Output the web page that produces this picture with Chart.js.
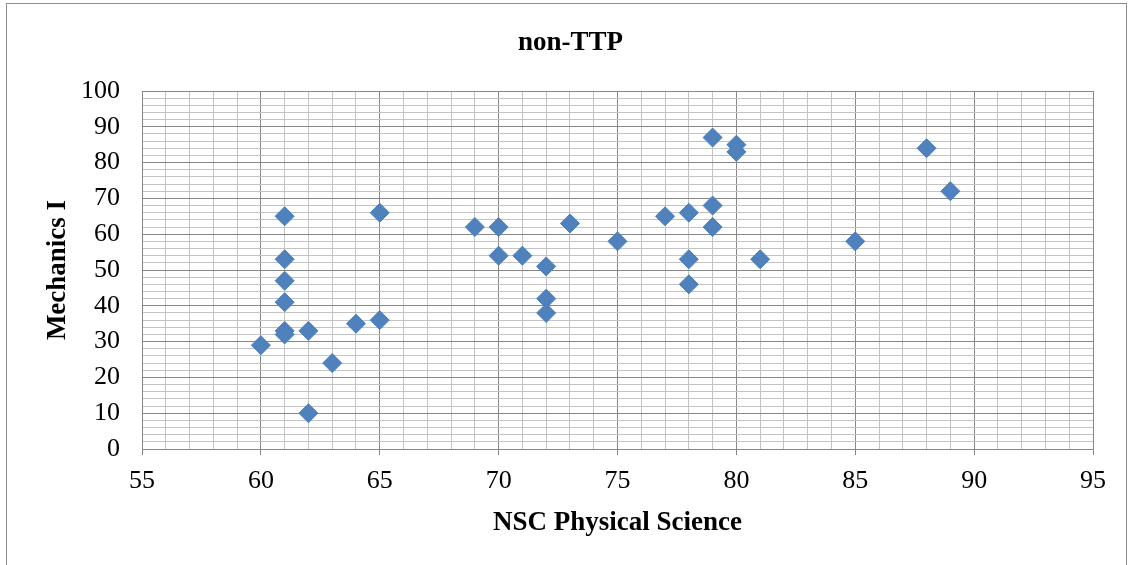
<!DOCTYPE html>
<html>
<head>
<meta charset="utf-8">
<title>non-TTP</title>
<script src="https://cdn.jsdelivr.net/npm/chart.js@4"></script>
<style>
  body { margin: 0; background: #fff; }
  .frame { position: absolute; left: 6px; top: 3px; width: 1119px; height: 600px; border: 1px solid #8c8c8c; }
  .wrap { position: absolute; left: 0; top: 0; width: 1129px; height: 565px; }
</style>
</head>
<body>
<div class="frame"></div>
<div class="wrap"><canvas id="chart" width="1129" height="565"></canvas></div>
<script>
// NSC Physical Science (x) vs Mechanics I (y)
const physSci = [60, 61, 61, 61, 61, 61, 61, 62, 62, 63, 64, 65, 65,
  69, 70, 70, 71, 72, 72, 72, 73, 75, 77, 78, 78, 78,
  79, 79, 79, 80, 80, 81, 85, 88, 89];
const mechanics = [29, 65, 53, 47, 41, 33, 32, 33, 10, 24, 35, 36, 66,
  62, 62, 54, 54, 51, 42, 38, 63, 58, 65, 66, 53, 46,
  87, 68, 62, 85, 83, 53, 58, 84, 72];

const xMin = 55, xMax = 95;
const yMin = 0, yMax = 100;

const points = physSci.map(function (x, i) {
  return { x: x, y: mechanics[i] };
});

const serif = "'Liberation Serif', 'Times New Roman', serif";
const majorLine = "#878787";
const minorLine = "#c3c3c3";

var ctx = document.getElementById("chart").getContext("2d");
var chart = new Chart(ctx, {
  type: "scatter",
  data: {
    datasets: [
      {
        label: "Mechanics I",
        data: points,
        pointStyle: "rectRot",
        pointRadius: 9.5,
        pointHoverRadius: 9.5,
        backgroundColor: "#4f81bd",
        borderColor: "#4a7ebb",
        borderWidth: 1,
      },
    ],
  },
  options: {
    responsive: false,
    animation: false,
    layout: { padding: { left: 12, right: 0, top: 0, bottom: 0 } },
    plugins: {
      legend: { display: false },
      tooltip: { enabled: false },
      title: {
        display: true,
        text: "non-TTP",
        color: "#000",
        font: { family: serif, size: 27, weight: "bold" },
        padding: { top: 27, bottom: 31.6 },
      },
    },
    scales: {
      x: {
        type: "linear",
        min: xMin,
        max: xMax,
        afterFit: function (scale) { scale.height = 116; },
        border: { color: majorLine, width: 1 },
        grid: {
          color: function (c) { return c.tick.value % 5 === 0 ? majorLine : minorLine; },
          tickColor: function (c) { return c.tick.value % 5 === 0 ? majorLine : "rgba(0,0,0,0)"; },
          tickLength: 6,
          lineWidth: 1,
        },
        ticks: {
          stepSize: 1,
          autoSkip: false,
          maxRotation: 0,
          color: "#000",
          padding: 11,
          font: { family: serif, size: 26 },
          callback: function (v) { return v % 5 === 0 ? v : ""; },
        },
        title: {
          display: true,
          text: "NSC Physical Science",
          color: "#000",
          font: { family: serif, size: 27, weight: "bold" },
          padding: { top: 26, bottom: 26 },
        },
      },
      y: {
        type: "linear",
        min: yMin,
        max: yMax,
        afterFit: function (scale) { scale.width = 130; },
        border: { color: majorLine, width: 1 },
        grid: {
          color: function (c) { return c.tick.value % 10 === 0 ? majorLine : minorLine; },
          drawTicks: false,
          lineWidth: 1,
        },
        ticks: {
          stepSize: 2,
          autoSkip: false,
          color: "#000",
          padding: 22,
          font: { family: serif, size: 26 },
          callback: function (v) { return v % 10 === 0 ? v : ""; },
        },
        title: {
          display: true,
          text: "Mechanics I",
          color: "#000",
          font: { family: serif, size: 27, weight: "bold" },
          padding: { top: 30, bottom: 30 },
        },
      },
      // empty right-hand spacer so the plot ends at 95 while the title centres on the frame
      spacer: {
        type: "linear",
        position: "right",
        afterFit: function (scale) { scale.width = 36; },
        grid: { display: false, drawTicks: false },
        border: { display: false },
        ticks: { display: false },
      },
    },
  },
});
</script>
</body>
</html>
